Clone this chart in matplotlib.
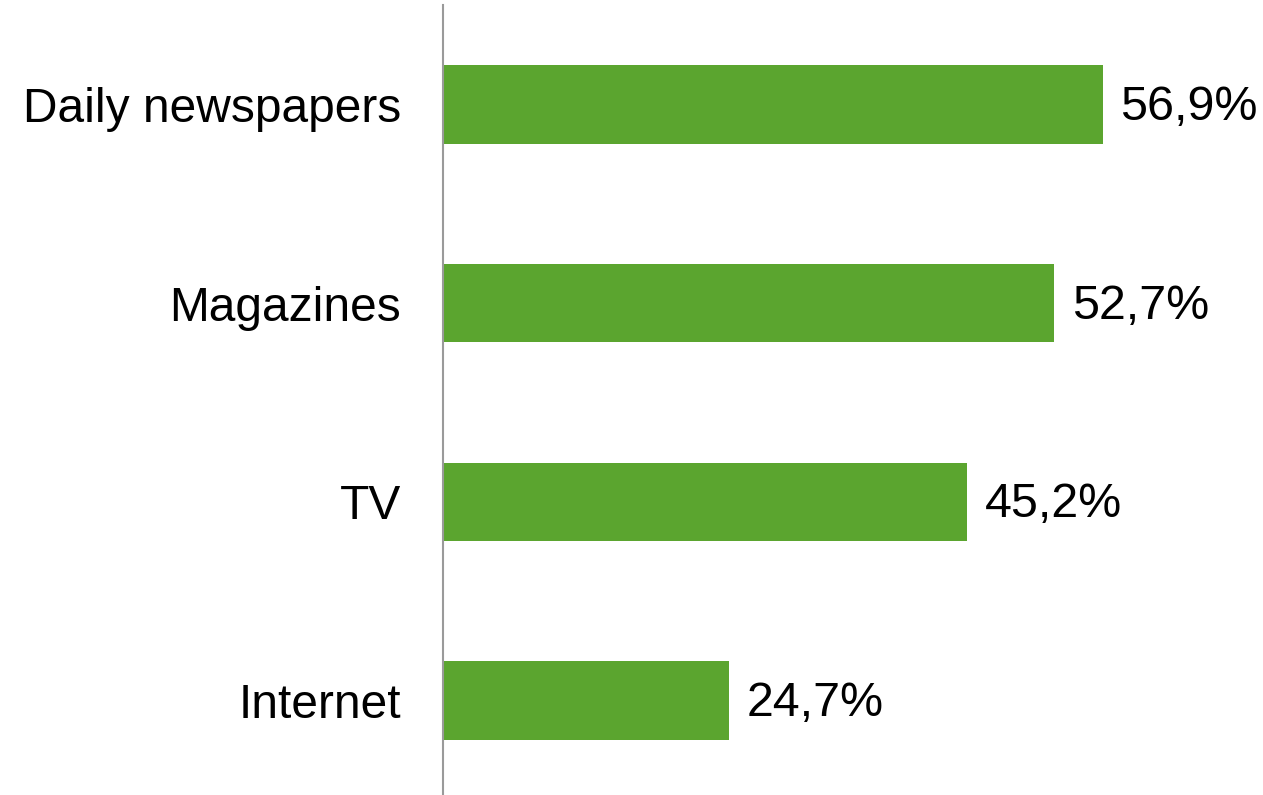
import matplotlib.pyplot as plt

# share of respondents per media type
media = ['Daily newspapers', 'Magazines', 'TV', 'Internet']
shares = [56.9, 52.7, 45.2, 24.7]
share_labels = ['56,9%', '52,7%', '45,2%', '24,7%']

plt.rcParams['font.family'] = ['Liberation Sans', 'DejaVu Sans']

fig = plt.figure(figsize=(12.63, 7.95), dpi=100)
ax = fig.add_axes([443 / 1263, -5 / 795, 1 - 443 / 1263, 1.0])

pos = range(len(media))
bars = ax.barh(pos, shares, height=0.395, color='#5BA52F', left=0)

for bar, lbl in zip(bars, share_labels):
    ax.text(bar.get_width() + 1.5, bar.get_y() + bar.get_height() / 2 + 0.015, lbl,
            va='center', ha='left', fontsize=34.8, color='black')

ax.set_xlim(0, 70.7)
ax.set_ylim(3.5, -0.5)
ax.set_yticks(list(pos))
ax.set_yticklabels(media, fontsize=34.5)
ax.tick_params(axis='y', length=0, pad=30)
ax.set_xticks([])

for side in ['top', 'right', 'bottom']:
    ax.spines[side].set_visible(False)
ax.spines['left'].set_color('#9a9a9a')
ax.spines['left'].set_linewidth(1.5)

fig.savefig('out.png', dpi=100)
